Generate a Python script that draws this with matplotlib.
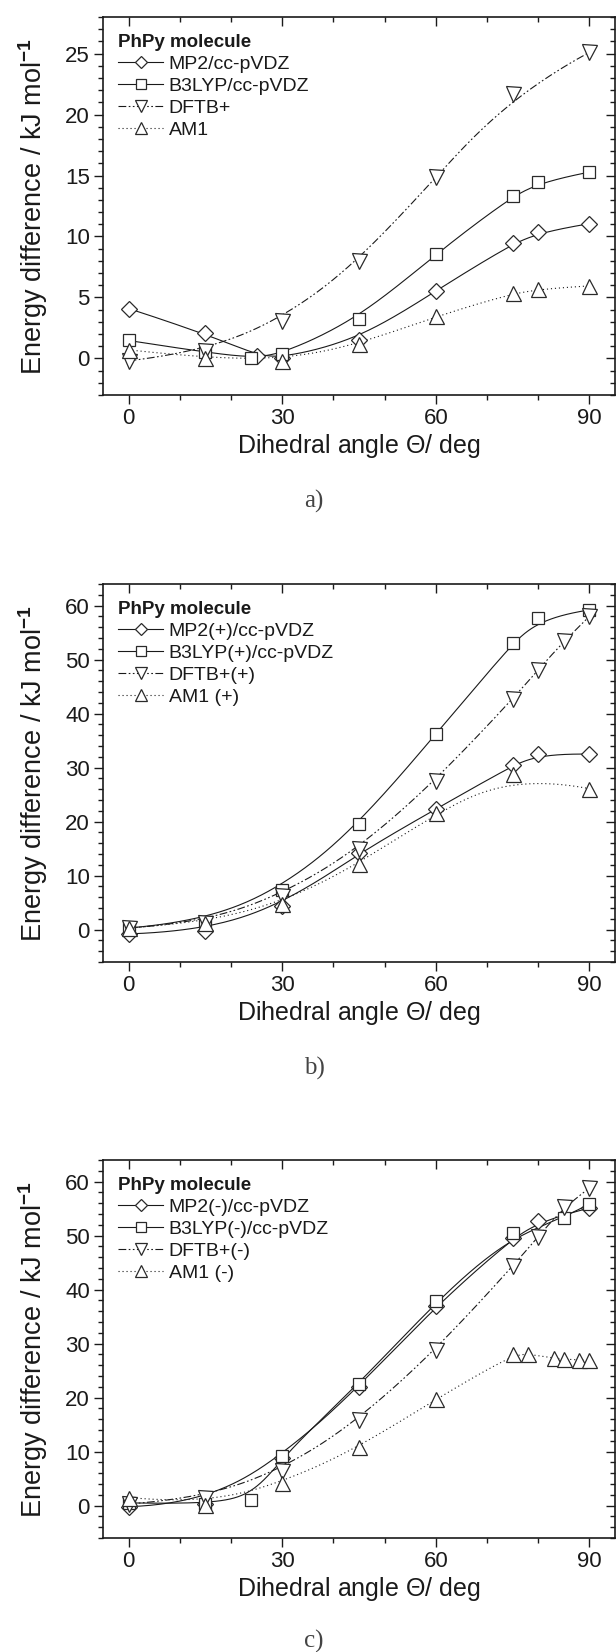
import numpy as np
import matplotlib
matplotlib.use("Agg")
import matplotlib.pyplot as plt
from matplotlib.ticker import MultipleLocator

plt.rcParams['font.family'] = ['Liberation Sans', 'DejaVu Sans']
plt.rcParams['mathtext.fontset'] = 'custom'
plt.rcParams['mathtext.rm'] = 'Liberation Sans'
plt.rcParams['mathtext.it'] = 'Liberation Sans:italic'
plt.rcParams['mathtext.bf'] = 'Liberation Sans:bold'

# ---------------- data ----------------
# panel a
a_mp2_x = [0, 15, 25, 30, 45, 60, 75, 80, 90]
a_mp2_y = [4.09, 2.05, 0.2, 0.03, 1.53, 5.54, 9.44, 10.34, 11.05]
a_b3_x = [0, 15, 24, 30, 45, 60, 75, 80, 90]
a_b3_y = [1.47, 0.5, 0.0, 0.35, 3.25, 8.57, 13.35, 14.44, 15.28]
a_dftb_x = [0, 15, 30, 45, 60, 75, 90]
a_dftb_y = [-0.2, 0.57, 3.08, 8.0, 14.85, 21.7, 25.1]
a_am1_x = [0, 15, 30, 45, 60, 75, 80, 90]
a_am1_y = [0.7, 0.03, -0.2, 1.17, 3.44, 5.35, 5.68, 5.95]
a_labels = ["MP2/cc-pVDZ", "B3LYP/cc-pVDZ", "DFTB+", "AM1"]

# panel b
b_mp2_x = [0, 15, 30, 45, 60, 75, 80, 90]
b_mp2_y = [-0.8, -0.3, 4.3, 14.2, 22.3, 30.4, 32.6, 32.5]
b_b3_x = [0, 15, 30, 45, 60, 75, 80, 90]
b_b3_y = [0.3, 1.5, 7.3, 19.5, 36.2, 53.1, 57.7, 59.2]
b_dftb_x = [0, 15, 30, 45, 60, 75, 80, 85, 90]
b_dftb_y = [0.3, 1.3, 6.3, 15.0, 27.6, 42.7, 48.1, 53.4, 58.0]
b_am1_x = [0, 15, 30, 45, 60, 75, 90]
b_am1_y = [0.3, 1.3, 4.8, 12.2, 21.6, 28.8, 26.1]
b_labels = ["MP2(+)/cc-pVDZ", "B3LYP(+)/cc-pVDZ", "DFTB+(+)", "AM1 (+)"]

# panel c
c_mp2_x = [0, 15, 30, 45, 60, 75, 80, 90]
c_mp2_y = [-0.2, 0.3, 8.9, 22.0, 37.0, 49.5, 52.7, 55.1]
c_b3_x = [0, 15, 24, 30, 45, 60, 75, 85, 90]
c_b3_y = [0.5, 0.3, 1.0, 9.2, 22.5, 37.8, 50.5, 53.2, 55.9]
c_dftb_x = [0, 15, 30, 45, 60, 75, 80, 85, 90]
c_dftb_y = [0.3, 1.4, 6.4, 15.9, 28.8, 44.3, 49.8, 55.3, 58.8]
c_am1_x = [0, 15, 30, 45, 60, 75, 78, 83, 85, 88, 90]
c_am1_y = [1.5, 0.2, 4.1, 10.8, 19.7, 28.0, 28.1, 27.3, 27.1, 27.0, 26.9]
c_labels = ["MP2(-)/cc-pVDZ", "B3LYP(-)/cc-pVDZ", "DFTB+(-)", "AM1 (-)"]

legend_title = "PhPy molecule"
captions = ["a)", "b)", "c)"]
xlabel = r"Dihedral angle $\mathit{\Theta}$/ deg"
ylabel = r"Energy difference / kJ mol$^{\mathbf{-1}}$"


def bspline(xs, ys, n=300, k=3):
    """Clamped cubic B-spline with the data points as control points (B-spline connect)."""
    P = np.column_stack([xs, ys]).astype(float)
    m = len(P)
    k = min(k, m - 1)
    inner = np.linspace(0, 1, m - k + 1)
    t = np.concatenate([np.zeros(k), inner, np.ones(k)])
    u = np.linspace(0, 1, n)
    u[-1] = 1 - 1e-12

    def basis(i, p, uu):
        if p == 0:
            return ((t[i] <= uu) & (uu < t[i + 1])).astype(float)
        d1 = t[i + p] - t[i]
        d2 = t[i + p + 1] - t[i + 1]
        a = 0 if d1 == 0 else (uu - t[i]) / d1 * basis(i, p - 1, uu)
        b = 0 if d2 == 0 else (t[i + p + 1] - uu) / d2 * basis(i + 1, p - 1, uu)
        return a + b

    C = np.zeros((n, 2))
    for i in range(m):
        C += basis(i, k, u)[:, None] * P[i]
    return C[:, 0], C[:, 1]


W, H = 616, 1652
fig = plt.figure(figsize=(W / 100, H / 100), dpi=100)

styles = [
    dict(ls='-', marker='D', ms=7.8),
    dict(ls='-', marker='s', ms=8.5),
    dict(ls=(0, (7, 2.2, 1.5, 2.2, 1.5, 2.2)), marker='v', ms=10.8),
    dict(ls=(0, (1.0, 2.6)), marker='^', ms=10.8),
]

panels = [
    dict(bottom=395, ylim=(-3, 28), major=5, minor=1,
         series=[(a_mp2_x, a_mp2_y), (a_b3_x, a_b3_y), (a_dftb_x, a_dftb_y), (a_am1_x, a_am1_y)],
         labels=a_labels, cap=captions[0], cap_y=501),
    dict(bottom=962, ylim=(-6, 64), major=10, minor=2,
         series=[(b_mp2_x, b_mp2_y), (b_b3_x, b_b3_y), (b_dftb_x, b_dftb_y), (b_am1_x, b_am1_y)],
         labels=b_labels, cap=captions[1], cap_y=1068),
    dict(bottom=1538, ylim=(-6, 64), major=10, minor=2,
         series=[(c_mp2_x, c_mp2_y), (c_b3_x, c_b3_y), (c_dftb_x, c_dftb_y), (c_am1_x, c_am1_y)],
         labels=c_labels, cap=captions[2], cap_y=1641),
]

ax_left, ax_right = 103, 615
ax_h = 378
ink = '#1a1a1a'

for p in panels:
    ax = fig.add_axes([ax_left / W, 1 - p['bottom'] / H, (ax_right - ax_left) / W, ax_h / H])
    handles = []
    for (xs, ys), st, lab in zip(p['series'], styles, p['labels']):
        cx, cy = bspline(xs, ys)
        ax.plot(cx, cy, color=ink, lw=0.8, ls=st['ls'], zorder=2)
        ax.plot(xs, ys, ls='none', marker=st['marker'], ms=st['ms'], mfc='white',
                mec='#2a2a2a', mew=0.9, zorder=3)
        h, = ax.plot([], [], color=ink, lw=0.8, ls=st['ls'], marker=st['marker'],
                     ms=st['ms'], mfc='white', mec='#2a2a2a', mew=0.9)
        handles.append(h)
    ax.set_xlim(-5, 95)
    ax.set_ylim(*p['ylim'])
    ax.xaxis.set_major_locator(MultipleLocator(30))
    ax.xaxis.set_minor_locator(MultipleLocator(10))
    ax.yaxis.set_major_locator(MultipleLocator(p['major']))
    ax.yaxis.set_minor_locator(MultipleLocator(p['minor']))
    ax.tick_params(which='both', direction='out', top=False, right=False, width=1.0, color=ink)
    ax.tick_params(which='major', length=6.5, pad=3, labelsize=16, labelcolor=ink)
    ax.tick_params(which='minor', length=3.8)
    # inward ticks on the mirrored sides
    ax2 = ax.secondary_xaxis('top')
    ax2.xaxis.set_major_locator(MultipleLocator(30))
    ax2.xaxis.set_minor_locator(MultipleLocator(10))
    ax2.tick_params(which='both', direction='in', labeltop=False, width=1.0, color=ink)
    ax2.tick_params(which='major', length=6.5)
    ax2.tick_params(which='minor', length=3.8)
    ay2 = ax.secondary_yaxis('right')
    ay2.yaxis.set_major_locator(MultipleLocator(p['major']))
    ay2.yaxis.set_minor_locator(MultipleLocator(p['minor']))
    ay2.tick_params(which='both', direction='in', labelright=False, width=1.0, color=ink)
    ay2.tick_params(which='major', length=6.5)
    ay2.tick_params(which='minor', length=3.8)
    for s in ax.spines.values():
        s.set_linewidth(1.2)
        s.set_color(ink)
    ax2.spines['top'].set_visible(False)
    ay2.spines['right'].set_visible(False)

    ax.set_xlabel(xlabel, fontsize=18, color=ink, labelpad=2)
    ax.set_ylabel(ylabel, fontsize=19.5, color=ink, labelpad=11)

    leg = ax.legend(handles, p['labels'], title=legend_title, loc='upper left',
                    bbox_to_anchor=(0.003, 0.99), frameon=False, fontsize=14,
                    title_fontproperties={'weight': 'bold', 'size': 13.5},
                    alignment='left', handlelength=2.3, handletextpad=0.3,
                    labelspacing=0.22, borderpad=0.2, markerscale=0.8)
    for t in leg.get_texts():
        t.set_color(ink)
    leg.get_title().set_color(ink)

    fig.text(314 / W, 1 - p['cap_y'] / H, p['cap'], ha='center', va='center',
             fontsize=18, family=['Liberation Serif', 'DejaVu Serif'], color='#444444')

fig.savefig("out.png", dpi=100)
